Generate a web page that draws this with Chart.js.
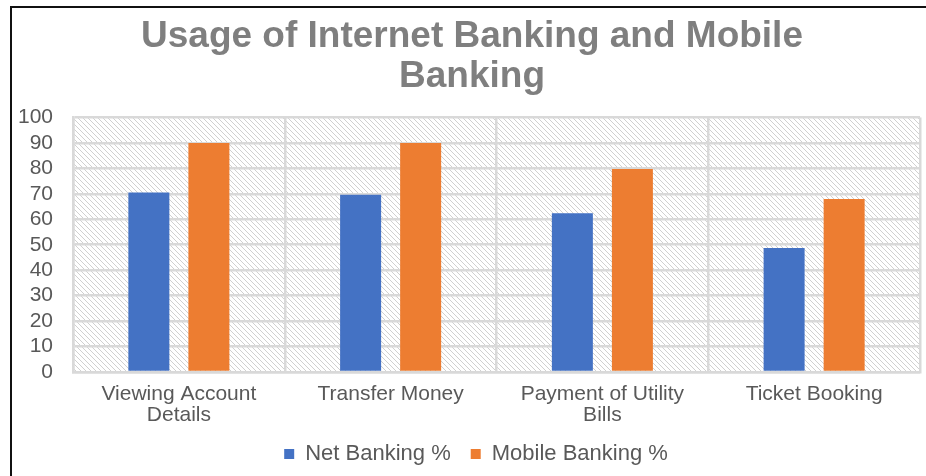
<!DOCTYPE html>
<html>
<head>
<meta charset="utf-8">
<script src="https://cdn.jsdelivr.net/npm/chart.js@4/dist/chart.umd.min.js"></script>
<style>
  html, body { margin: 0; padding: 0; background: #fff; }
  #wrap { position: relative; width: 926px; height: 476px; }
  #frameTop { position: absolute; left: 10px; top: 6px; width: 916px; height: 2px; background: #111; }
  #frameLeft { position: absolute; left: 10px; top: 6px; width: 2px; height: 470px; background: #111; }
  canvas { position: absolute; left: 0; top: 0; }
</style>
</head>
<body>
<div id="wrap">
  <canvas id="c" width="926" height="476"></canvas>
  <div id="frameTop"></div>
  <div id="frameLeft"></div>
</div>
<script>
const titleLines = ["Usage of Internet Banking and Mobile", "Banking"];
const categories = [["Viewing Account", "Details"], "Transfer Money", ["Payment of Utility", "Bills"], "Ticket Booking"];
const seriesNames = ["Net Banking %", "Mobile Banking %"];
const netBanking = [70.5, 69.6, 62.4, 48.7];
const mobileBanking = [90, 90, 79.7, 68];
const yTicks = [0, 10, 20, 30, 40, 50, 60, 70, 80, 90, 100];

function makeHatch() {
  const s = 5;
  const p = document.createElement('canvas');
  p.width = s; p.height = s;
  const g = p.getContext('2d');
  g.strokeStyle = '#d0d0d0';
  g.lineWidth = 1;
  g.beginPath();
  g.moveTo(-1, -1); g.lineTo(s + 1, s + 1);
  g.moveTo(-1, s - 1); g.lineTo(1, s + 1);
  g.moveTo(s - 1, -1); g.lineTo(s + 1, 1);
  g.stroke();
  return p;
}

const hatchPlugin = {
  id: 'hatch',
  beforeDraw(chart) {
    const { ctx, chartArea: a } = chart;
    ctx.save();
    ctx.fillStyle = ctx.createPattern(makeHatch(), 'repeat');
    ctx.fillRect(a.left, a.top, a.right - a.left, a.bottom - a.top);
    ctx.restore();
  }
};

const shiftPlugin = {
  id: 'shiftBoxes',
  afterLayout(chart) {
    if (chart.legend) { chart.legend.left += 8; chart.legend.right += 8; }
    if (chart.titleBlock) { chart.titleBlock.left += 4; chart.titleBlock.right += 4; }
  }
};

new Chart(document.getElementById('c'), {
  type: 'bar',
  data: {
    labels: categories,
    datasets: [
      { label: seriesNames[0], data: netBanking, backgroundColor: '#4472C4', borderWidth: 0 },
      { label: seriesNames[1], data: mobileBanking, backgroundColor: '#ED7D31', borderWidth: 0 }
    ]
  },
  options: {
    responsive: false,
    animation: false,
    categoryPercentage: 0.567,
    barPercentage: 0.683,
    layout: { padding: { left: 16, right: 6, top: 10, bottom: 1 } },
    plugins: {
      title: {
        display: true,
        text: titleLines,
        color: '#7f7f7f',
        font: { family: 'Liberation Sans', size: 37, weight: 'bold', lineHeight: 1.06 },
        padding: { top: 7.5, bottom: 21.5 }
      },
      legend: {
        position: 'bottom',
        labels: {
          color: '#595959',
          font: { family: 'Liberation Sans', size: 22 },
          boxWidth: 10, boxHeight: 10,
          padding: 20
        }
      },
      tooltip: { enabled: false }
    },
    scales: {
      x: {
        afterFit(scale) { scale.height = 51; },
        grid: { offset: true, color: '#d9d9d9', lineWidth: 2.5, drawTicks: false },
        border: { display: true, color: '#d9d9d9', width: 2.5 },
        ticks: { color: '#595959', font: { family: 'Liberation Sans', size: 21, lineHeight: 1.0 }, padding: 11.5, maxRotation: 0, autoSkip: false }
      },
      y: {
        min: 0, max: 100,
        afterBuildTicks(axis) { axis.ticks = yTicks.map(v => ({ value: v })); },
        afterFit(scale) { scale.width = 57; },
        grid: { color: '#d9d9d9', lineWidth: 2.5, drawTicks: false },
        border: { display: true, color: '#d9d9d9', width: 2.5 },
        ticks: { color: '#595959', font: { family: 'Liberation Sans', size: 21 }, padding: 20, autoSkip: false }
      }
    }
  },
  plugins: [hatchPlugin, shiftPlugin]
});
</script>
</body>
</html>
